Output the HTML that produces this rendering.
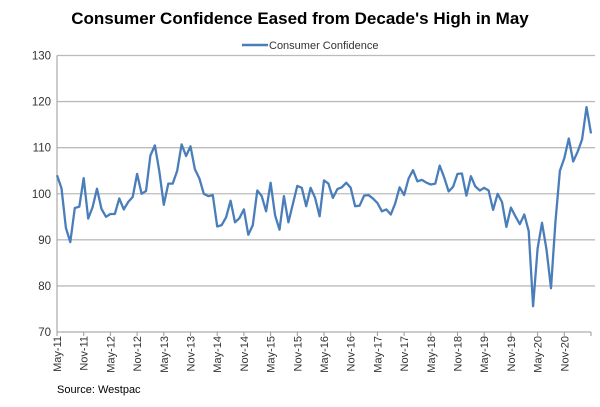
<!DOCTYPE html>
<html><head><meta charset="utf-8"><style>
body{margin:0;background:#fff;font-family:"Liberation Sans",Arial,sans-serif}
</style></head><body>
<svg width="600" height="402" viewBox="0 0 600 402" xmlns="http://www.w3.org/2000/svg" font-family="Liberation Sans, Arial, sans-serif">
<text x="300" y="24" text-anchor="middle" font-size="17" font-weight="bold" fill="#000">Consumer Confidence Eased from Decade's High in May</text>
<g>
<line x1="242" y1="45" x2="268" y2="45" stroke="#4a7ebb" stroke-width="2.5"/>
<text x="269" y="49" font-size="11" fill="#333">Consumer Confidence</text>
</g>
<g id="grid"></g>
<g id="yaxis"></g>
<g id="xaxis"></g>
<path id="line" fill="none" stroke="#4a7ebb" stroke-width="2.3" stroke-linejoin="round"/>
<text x="57" y="393" font-size="11" fill="#000">Source: Westpac</text>
</svg>
<script>
const yTicks=[70,80,90,100,110,120,130];
const xLabels=["May-11","Nov-11","May-12","Nov-12","May-13","Nov-13","May-14","Nov-14","May-15","Nov-15","May-16","Nov-16","May-17","Nov-17","May-18","Nov-18","May-19","Nov-19","May-20","Nov-20"];
const values=[104.0,101.2,92.6,89.5,96.9,97.2,103.4,94.6,97.1,101.1,96.7,95.0,95.6,95.6,99.0,96.6,98.2,99.3,104.3,100.0,
100.6,108.3,110.5,104.9,97.6,102.2,102.2,105.0,110.7,108.2,110.3,105.3,103.3,100.0,99.5,99.7,92.9,93.2,94.9,98.5,93.8,94.7,96.6,91.1,
93.2,100.7,99.5,96.2,102.4,95.3,92.2,99.5,93.8,97.8,101.7,101.3,97.3,101.3,99.1,95.1,102.9,102.2,99.1,101.0,101.4,102.4,101.3,97.3,
97.4,99.6,99.7,99.0,98.0,96.2,96.6,95.5,97.9,101.4,99.7,103.3,105.1,102.7,103.0,102.4,102.0,102.2,106.1,103.6,100.5,101.5,104.3,104.4,
99.6,103.8,101.6,100.7,101.3,100.7,96.5,100.0,98.2,92.8,97.0,95.1,93.4,95.5,91.9,75.6,88.1,93.7,87.9,79.5,93.8,105.0,107.7,112.0,
107.0,109.1,111.8,118.8,113.1];
const X0=57,X1=591,Y0=332,Y1=55.5,NS="http://www.w3.org/2000/svg";
const nMonths=120;
const xs=i=>X0+(X1-X0)*i/nMonths;
const ys=v=>Y0-(v-70)/60*(Y0-Y1);
function mk(t,a,p){const e=document.createElementNS(NS,t);for(const k in a)e.setAttribute(k,a[k]);p.appendChild(e);return e;}
const grid=document.getElementById('grid'),ya=document.getElementById('yaxis'),xa=document.getElementById('xaxis');
yTicks.forEach(v=>{
 if(v>70){const l=mk('line',{x1:X0,x2:X1+4,y1:ys(v),y2:ys(v),stroke:'#bbb','stroke-width':1.3},grid);
 
 }
 const t=mk('text',{x:X0-6,y:ys(v)+4,'text-anchor':'end','font-size':11.5,fill:'#333'},ya);t.textContent=v;
 
 
});
mk('line',{x1:X0,x2:X0,y1:Y1,y2:Y0,stroke:'#999'},ya);
mk('line',{x1:X0,x2:X1,y1:Y0,y2:Y0,stroke:'#999'},xa);
xLabels.forEach((s,i)=>{
 const x=xs(i*6);
 mk('line',{x1:x,x2:x,y1:Y0,y2:Y0+4,stroke:'#999'},xa);
 const t=mk('text',{x:0,y:0,transform:`translate(${x+4},${Y0+4}) rotate(-90)`,'text-anchor':'end','font-size':11,fill:'#333'},xa);
 t.textContent=s;
 
 
});
mk('line',{x1:X1,x2:X1,y1:Y0,y2:Y0+4,stroke:'#999'},xa);
document.getElementById('line').setAttribute('d',values.map((v,i)=>(i?'L':'M')+xs(i).toFixed(1)+','+ys(v).toFixed(1)).join(''));
</script>
</body></html>
